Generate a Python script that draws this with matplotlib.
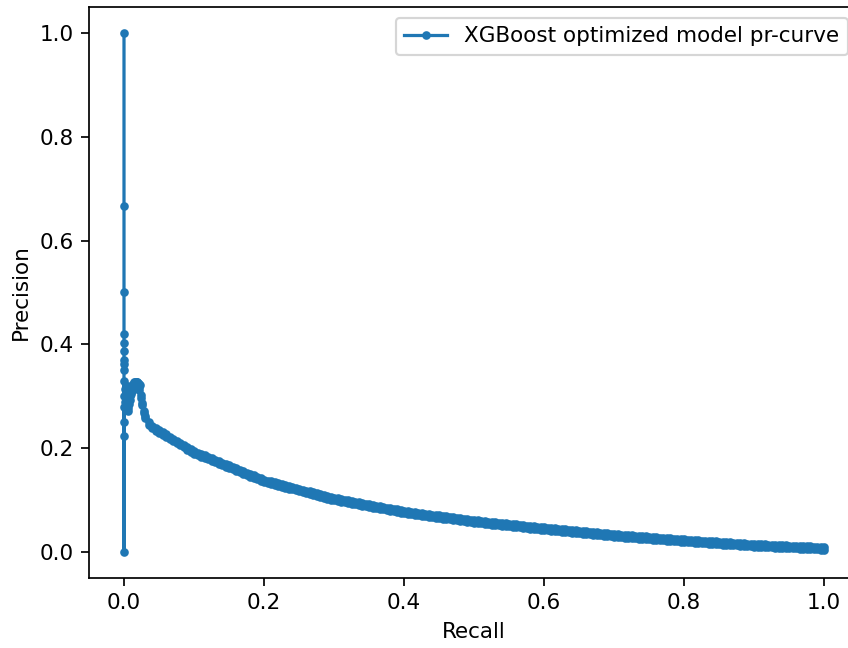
import matplotlib
matplotlib.use("Agg")
import matplotlib.pyplot as plt

# Main PR curve (recall descending, as a PR curve is produced).
# For each recall value the band has an upper and a lower precision edge.
curve_recall = [
    1.000, 0.995, 0.990, 0.985, 0.980, 0.975, 0.970, 0.965, 0.960, 0.955,
    0.950, 0.945, 0.940, 0.935, 0.930, 0.925, 0.920, 0.915, 0.910, 0.905,
    0.900, 0.895, 0.890, 0.885, 0.880, 0.875, 0.870, 0.865, 0.860, 0.855,
    0.850, 0.845, 0.840, 0.835, 0.830, 0.825, 0.820, 0.815, 0.810, 0.805,
    0.800, 0.795, 0.790, 0.785, 0.780, 0.775, 0.770, 0.765, 0.760, 0.755,
    0.750, 0.745, 0.740, 0.735, 0.730, 0.725, 0.720, 0.715, 0.710, 0.705,
    0.700, 0.695, 0.690, 0.685, 0.680, 0.675, 0.670, 0.665, 0.660, 0.655,
    0.650, 0.645, 0.640, 0.635, 0.630, 0.625, 0.620, 0.615, 0.610, 0.605,
    0.600, 0.595, 0.590, 0.585, 0.580, 0.575, 0.570, 0.565, 0.560, 0.555,
    0.550, 0.545, 0.540, 0.535, 0.530, 0.525, 0.520, 0.515, 0.510, 0.505,
    0.500, 0.495, 0.490, 0.485, 0.480, 0.475, 0.470, 0.465, 0.460, 0.455,
    0.450, 0.445, 0.440, 0.435, 0.430, 0.425, 0.420, 0.415, 0.410, 0.405,
    0.400, 0.395, 0.390, 0.385, 0.380, 0.375, 0.370, 0.365, 0.360, 0.355,
    0.350, 0.345, 0.340, 0.335, 0.330, 0.325, 0.320, 0.315, 0.310, 0.305,
    0.300, 0.295, 0.290, 0.285, 0.280, 0.275, 0.270, 0.265, 0.260, 0.255,
    0.250, 0.245, 0.240, 0.235, 0.230, 0.225, 0.220, 0.215, 0.210, 0.205,
    0.200, 0.195, 0.190, 0.185, 0.180, 0.175, 0.170, 0.165, 0.160, 0.155,
    0.150, 0.145, 0.140, 0.135, 0.130, 0.125, 0.120, 0.115, 0.110, 0.105,
    0.100, 0.095, 0.090, 0.085, 0.080, 0.075, 0.070, 0.065, 0.060, 0.055,
    0.050, 0.045, 0.040, 0.035, 0.030, 0.028, 0.026, 0.024, 0.022,
]
curve_precision_upper = [
    0.0095, 0.0098, 0.0101, 0.0104, 0.0107, 0.0110, 0.0113, 0.0116, 0.0119, 0.0122,
    0.0125, 0.0128, 0.0131, 0.0134, 0.0137, 0.0140, 0.0143, 0.0146, 0.0149, 0.0152,
    0.0155, 0.0159, 0.0164, 0.0168, 0.0173, 0.0177, 0.0182, 0.0186, 0.0191, 0.0195,
    0.0200, 0.0204, 0.0209, 0.0213, 0.0218, 0.0222, 0.0227, 0.0231, 0.0236, 0.0240,
    0.0245, 0.0250, 0.0255, 0.0260, 0.0265, 0.0270, 0.0275, 0.0280, 0.0285, 0.0290,
    0.0295, 0.0300, 0.0305, 0.0310, 0.0315, 0.0320, 0.0325, 0.0330, 0.0335, 0.0340,
    0.0345, 0.0351, 0.0358, 0.0364, 0.0371, 0.0377, 0.0384, 0.0390, 0.0397, 0.0403,
    0.0410, 0.0416, 0.0423, 0.0429, 0.0436, 0.0442, 0.0449, 0.0455, 0.0462, 0.0468,
    0.0475, 0.0482, 0.0489, 0.0496, 0.0503, 0.0510, 0.0517, 0.0524, 0.0531, 0.0538,
    0.0545, 0.0552, 0.0559, 0.0566, 0.0573, 0.0580, 0.0587, 0.0594, 0.0601, 0.0608,
    0.0615, 0.0624, 0.0633, 0.0642, 0.0651, 0.0660, 0.0669, 0.0678, 0.0687, 0.0696,
    0.0705, 0.0714, 0.0723, 0.0732, 0.0741, 0.0750, 0.0759, 0.0768, 0.0777, 0.0786,
    0.0795, 0.0807, 0.0820, 0.0832, 0.0845, 0.0857, 0.0870, 0.0882, 0.0895, 0.0907,
    0.0920, 0.0932, 0.0945, 0.0957, 0.0970, 0.0982, 0.0995, 0.1007, 0.1020, 0.1032,
    0.1045, 0.1062, 0.1080, 0.1097, 0.1115, 0.1132, 0.1150, 0.1167, 0.1185, 0.1202,
    0.1220, 0.1237, 0.1255, 0.1272, 0.1290, 0.1307, 0.1325, 0.1342, 0.1360, 0.1377,
    0.1395, 0.1422, 0.1450, 0.1477, 0.1505, 0.1532, 0.1560, 0.1587, 0.1615, 0.1642,
    0.1670, 0.1697, 0.1725, 0.1752, 0.1780, 0.1807, 0.1835, 0.1862, 0.1890, 0.1917,
    0.1945, 0.1985, 0.2025, 0.2065, 0.2105, 0.2145, 0.2185, 0.2225, 0.2265, 0.2305,
    0.2345, 0.2385, 0.2435, 0.2505, 0.2625, 0.2725, 0.2875, 0.3025, 0.3175,
]
curve_precision_lower = [
    0.0045, 0.0048, 0.0051, 0.0054, 0.0057, 0.0060, 0.0063, 0.0066, 0.0069, 0.0072,
    0.0075, 0.0078, 0.0081, 0.0084, 0.0087, 0.0090, 0.0093, 0.0096, 0.0099, 0.0102,
    0.0105, 0.0109, 0.0114, 0.0118, 0.0123, 0.0127, 0.0132, 0.0136, 0.0141, 0.0145,
    0.0150, 0.0154, 0.0159, 0.0163, 0.0168, 0.0172, 0.0177, 0.0181, 0.0186, 0.0190,
    0.0195, 0.0200, 0.0205, 0.0210, 0.0215, 0.0220, 0.0225, 0.0230, 0.0235, 0.0240,
    0.0245, 0.0250, 0.0255, 0.0260, 0.0265, 0.0270, 0.0275, 0.0280, 0.0285, 0.0290,
    0.0295, 0.0301, 0.0308, 0.0314, 0.0321, 0.0327, 0.0334, 0.0340, 0.0347, 0.0353,
    0.0360, 0.0366, 0.0373, 0.0379, 0.0386, 0.0392, 0.0399, 0.0405, 0.0412, 0.0418,
    0.0425, 0.0432, 0.0439, 0.0446, 0.0453, 0.0460, 0.0467, 0.0474, 0.0481, 0.0488,
    0.0495, 0.0502, 0.0509, 0.0516, 0.0523, 0.0530, 0.0537, 0.0544, 0.0551, 0.0558,
    0.0565, 0.0574, 0.0583, 0.0592, 0.0601, 0.0610, 0.0619, 0.0628, 0.0637, 0.0646,
    0.0655, 0.0664, 0.0673, 0.0682, 0.0691, 0.0700, 0.0709, 0.0718, 0.0727, 0.0736,
    0.0745, 0.0757, 0.0770, 0.0782, 0.0795, 0.0807, 0.0820, 0.0832, 0.0845, 0.0857,
    0.0870, 0.0882, 0.0895, 0.0907, 0.0920, 0.0932, 0.0945, 0.0957, 0.0970, 0.0982,
    0.0995, 0.1012, 0.1030, 0.1047, 0.1065, 0.1082, 0.1100, 0.1117, 0.1135, 0.1152,
    0.1170, 0.1187, 0.1205, 0.1222, 0.1240, 0.1257, 0.1275, 0.1292, 0.1310, 0.1327,
    0.1345, 0.1372, 0.1400, 0.1427, 0.1455, 0.1482, 0.1510, 0.1537, 0.1565, 0.1592,
    0.1620, 0.1647, 0.1675, 0.1702, 0.1730, 0.1757, 0.1785, 0.1812, 0.1840, 0.1867,
    0.1895, 0.1935, 0.1975, 0.2015, 0.2055, 0.2095, 0.2135, 0.2175, 0.2215, 0.2255,
    0.2295, 0.2335, 0.2385, 0.2455, 0.2575, 0.2675, 0.2825, 0.2975, 0.3125,
]

# Noisy cluster at low recall
blob_recall = [0.023, 0.021, 0.020, 0.019, 0.018, 0.017, 0.016, 0.015, 0.014, 0.013,
               0.012, 0.011, 0.010, 0.009, 0.008, 0.007, 0.006, 0.005, 0.006, 0.007,
               0.005, 0.004, 0.003, 0.002, 0.003, 0.002, 0.001, 0.000]
blob_precision = [0.322, 0.324, 0.326, 0.327, 0.327, 0.328, 0.327, 0.326, 0.327, 0.323,
                  0.318, 0.310, 0.305, 0.300, 0.292, 0.285, 0.278, 0.272, 0.290, 0.310,
                  0.320, 0.285, 0.300, 0.315, 0.310, 0.290, 0.300, 0.330]

# Points at zero recall
zero_recall = [0.0, 0.0, 0.0, 0.0, 0.0, 0.0, 0.0, 0.0, 0.0, 0.0, 0.0, 0.0, 0.0, 0.0]
zero_precision = [0.300, 0.280, 0.250, 0.224, 0.350, 0.363, 0.370, 0.387, 0.403,
                  0.420, 0.000, 0.500, 0.667, 1.000]

label = "XGBoost optimized model pr-curve"

recall = []
precision = []
for r, hi, lo in zip(curve_recall, curve_precision_upper, curve_precision_lower):
    recall += [r, r]
    precision += [lo, hi]
recall += blob_recall + zero_recall
precision += blob_precision + zero_precision

dpi = 155
fig = plt.figure(figsize=(848 / dpi, 648 / dpi), dpi=dpi)
ax = fig.add_axes([89 / 848, 70 / 648, 770 / 848, 571 / 648])
ax.plot(recall, precision, marker='.', label=label)
ax.set_xlabel("Recall")
ax.set_ylabel("Precision")
ax.legend()
fig.savefig("out.png", dpi=dpi)
